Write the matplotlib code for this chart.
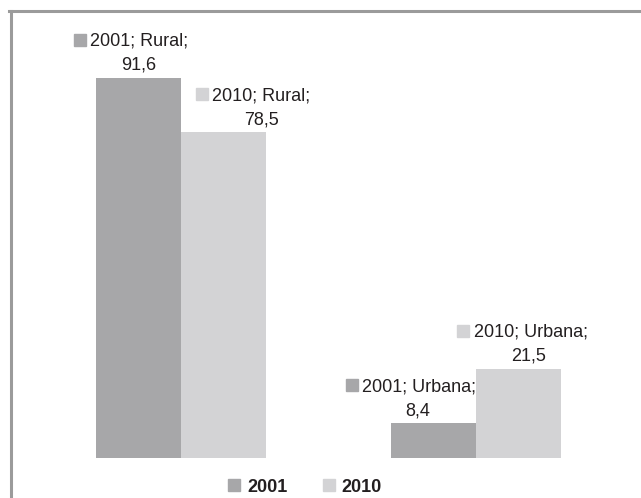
import matplotlib
matplotlib.use("Agg")
import matplotlib.pyplot as plt
import numpy as np
from matplotlib.lines import Line2D
from matplotlib.patches import Patch
from matplotlib.transforms import offset_copy

plt.rcParams["font.family"] = ["Liberation Sans", "DejaVu Sans"]

categories = ["Rural", "Urbana"]
years = ["2001", "2010"]
values_2001 = [91.6, 8.4]
values_2010 = [78.5, 21.5]

colors = {"2001": "#a7a7a9", "2010": "#d3d3d5"}
text_color = "#231f20"

W, H = 641, 498
fig = plt.figure(figsize=(W / 100, H / 100), dpi=100)

# axes placed in pixel terms so the bars land where the reference has them
ax = fig.add_axes([33.5 / W, 40 / H, 590 / W, 415 / H])
ax.set_xlim(-0.5, 1.5)
ax.set_ylim(0, 100)
ax.axis("off")

x = np.arange(len(categories))
width = 85 / 295
bars_a = ax.bar(x - width / 2, values_2001, width, color=colors["2001"], label="2001")
bars_b = ax.bar(x + width / 2, values_2010, width, color=colors["2010"], label="2010")

# label offsets in pixels relative to bar centre: (text left, value centre)
offsets = {
    ("2001", 0): (-48, 0),
    ("2010", 0): (-11, 38),
    ("2001", 1): (-71, -16),
    ("2010", 1): (-45, 10),
}

fs = 13
for year, bars in (("2001", bars_a), ("2010", bars_b)):
    for i, b in enumerate(bars):
        cx = b.get_x() + b.get_width() / 2
        top = b.get_height()
        tl, vc = offsets[(year, i)]
        val = f"{top:.1f}".replace(".", ",")
        ax.annotate(val, (cx, top), xytext=(vc, 8), textcoords="offset pixels",
                    ha="center", va="baseline", fontsize=fs, color=text_color)
        ax.annotate(f"{year}; {categories[i]};", (cx, top), xytext=(tl, 32),
                    textcoords="offset pixels", ha="left", va="baseline",
                    fontsize=fs, color=text_color)
        tr = offset_copy(ax.transData, fig=fig, x=tl - 11, y=38, units="dots")
        ax.plot([cx], [top], marker="s", ms=8.5, color=colors[year],
                transform=tr, clip_on=False)

handles = [Patch(color=colors[y]) for y in years]
leg = fig.legend(handles, years, loc="center", bbox_to_anchor=(305 / W, 1 - 487 / H),
                 ncol=2, frameon=False, borderpad=0, handlelength=0.66,
                 handleheight=0.66, handletextpad=0.39, columnspacing=1.95,
                 prop={"size": fs, "weight": "bold"})
for t in leg.get_texts():
    t.set_color(text_color)

# outer frame (only top and left edges visible in the crop)
frame_c = "#9b9b9b"
fig.add_artist(Line2D([10.5 / W, 10.5 / W], [0, 1 - 11.5 / H], color=frame_c, lw=2.2,
                      transform=fig.transFigure))
fig.add_artist(Line2D([9.4 / W, 1], [1 - 11.5 / H, 1 - 11.5 / H], color=frame_c, lw=2.2,
                      transform=fig.transFigure))

fig.savefig("out.png", dpi=100)
